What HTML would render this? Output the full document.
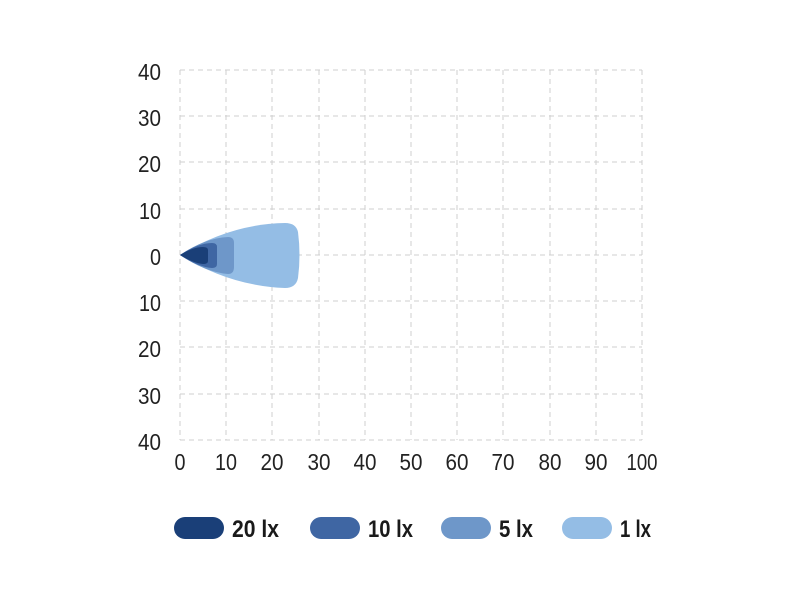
<!DOCTYPE html>
<html><head><style>
html,body{margin:0;padding:0;background:#fff;width:800px;height:600px;overflow:hidden}
text{font-family:"Liberation Sans Narrow","Liberation Sans",sans-serif}
</style></head><body>
<svg width="800" height="600" xmlns="http://www.w3.org/2000/svg">
<g stroke="#cfcfcf" stroke-width="1" stroke-dasharray="5,4" fill="none">
<line x1="180" y1="70" x2="180" y2="440"/><line x1="226" y1="70" x2="226" y2="440"/><line x1="272" y1="70" x2="272" y2="440"/><line x1="319" y1="70" x2="319" y2="440"/><line x1="365" y1="70" x2="365" y2="440"/><line x1="411" y1="70" x2="411" y2="440"/><line x1="457" y1="70" x2="457" y2="440"/><line x1="503" y1="70" x2="503" y2="440"/><line x1="550" y1="70" x2="550" y2="440"/><line x1="596" y1="70" x2="596" y2="440"/><line x1="642" y1="70" x2="642" y2="440"/>
<line x1="180" y1="70" x2="642" y2="70"/><line x1="180" y1="116" x2="642" y2="116"/><line x1="180" y1="162" x2="642" y2="162"/><line x1="180" y1="209" x2="642" y2="209"/><line x1="180" y1="255" x2="642" y2="255"/><line x1="180" y1="301" x2="642" y2="301"/><line x1="180" y1="347" x2="642" y2="347"/><line x1="180" y1="394" x2="642" y2="394"/><line x1="180" y1="440" x2="642" y2="440"/>
</g>
<path d="M180 255 Q230 224 285 223 Q296 223 298 232 Q301 255 298 278 Q296 288 285 288 Q230 286 180 255Z" fill="#94bde5"/>
<path d="M180 255 Q205 238 228 237 Q234 237 234 243 L234 267 Q234 274 228 274 Q205 272 180 255Z" fill="#6e97c9"/>
<path d="M180 255 Q198 243 212 243 Q217 243 217 247 L217 264 Q217 268 212 268 Q198 267 180 255Z" fill="#3f66a3"/>
<path d="M180 255 Q193 247 203 247 Q208 247 208 250 L208 261 Q208 264 203 264 Q193 263 180 255Z" fill="#1a3f78"/>
<g font-size="23" fill="#222" text-anchor="end">
<text x="161" y="80" textLength="23" lengthAdjust="spacingAndGlyphs">40</text><text x="161" y="126" textLength="23" lengthAdjust="spacingAndGlyphs">30</text><text x="161" y="172" textLength="23" lengthAdjust="spacingAndGlyphs">20</text><text x="161" y="219" textLength="22" lengthAdjust="spacingAndGlyphs">10</text><text x="161" y="265" textLength="11" lengthAdjust="spacingAndGlyphs">0</text><text x="161" y="311" textLength="22" lengthAdjust="spacingAndGlyphs">10</text><text x="161" y="357" textLength="23" lengthAdjust="spacingAndGlyphs">20</text><text x="161" y="404" textLength="23" lengthAdjust="spacingAndGlyphs">30</text><text x="161" y="450" textLength="23" lengthAdjust="spacingAndGlyphs">40</text>
</g>
<g font-size="23" fill="#222" text-anchor="middle">
<text x="180" y="470" textLength="11" lengthAdjust="spacingAndGlyphs">0</text><text x="226" y="470" textLength="22" lengthAdjust="spacingAndGlyphs">10</text><text x="272" y="470" textLength="23" lengthAdjust="spacingAndGlyphs">20</text><text x="319" y="470" textLength="23" lengthAdjust="spacingAndGlyphs">30</text><text x="365" y="470" textLength="23" lengthAdjust="spacingAndGlyphs">40</text><text x="411" y="470" textLength="23" lengthAdjust="spacingAndGlyphs">50</text><text x="457" y="470" textLength="23" lengthAdjust="spacingAndGlyphs">60</text><text x="503" y="470" textLength="23" lengthAdjust="spacingAndGlyphs">70</text><text x="550" y="470" textLength="23" lengthAdjust="spacingAndGlyphs">80</text><text x="596" y="470" textLength="23" lengthAdjust="spacingAndGlyphs">90</text><text x="642" y="470" textLength="31" lengthAdjust="spacingAndGlyphs">100</text>
</g>
<rect x="174" y="517" width="50" height="22" rx="11" fill="#1a3f78"/>
<rect x="310" y="517" width="50" height="22" rx="11" fill="#3f66a3"/>
<rect x="441" y="517" width="50" height="22" rx="11" fill="#6e97c9"/>
<rect x="562" y="517" width="50" height="22" rx="11" fill="#94bde5"/>
<g font-size="24" font-weight="bold" fill="#1a1a1a">
<text x="232" y="537" textLength="47" lengthAdjust="spacingAndGlyphs">20 lx</text><text x="368" y="537" textLength="45" lengthAdjust="spacingAndGlyphs">10 lx</text><text x="499" y="537" textLength="34" lengthAdjust="spacingAndGlyphs">5 lx</text><text x="620" y="537" textLength="31" lengthAdjust="spacingAndGlyphs">1 lx</text>
</g>
</svg>
</body></html>
